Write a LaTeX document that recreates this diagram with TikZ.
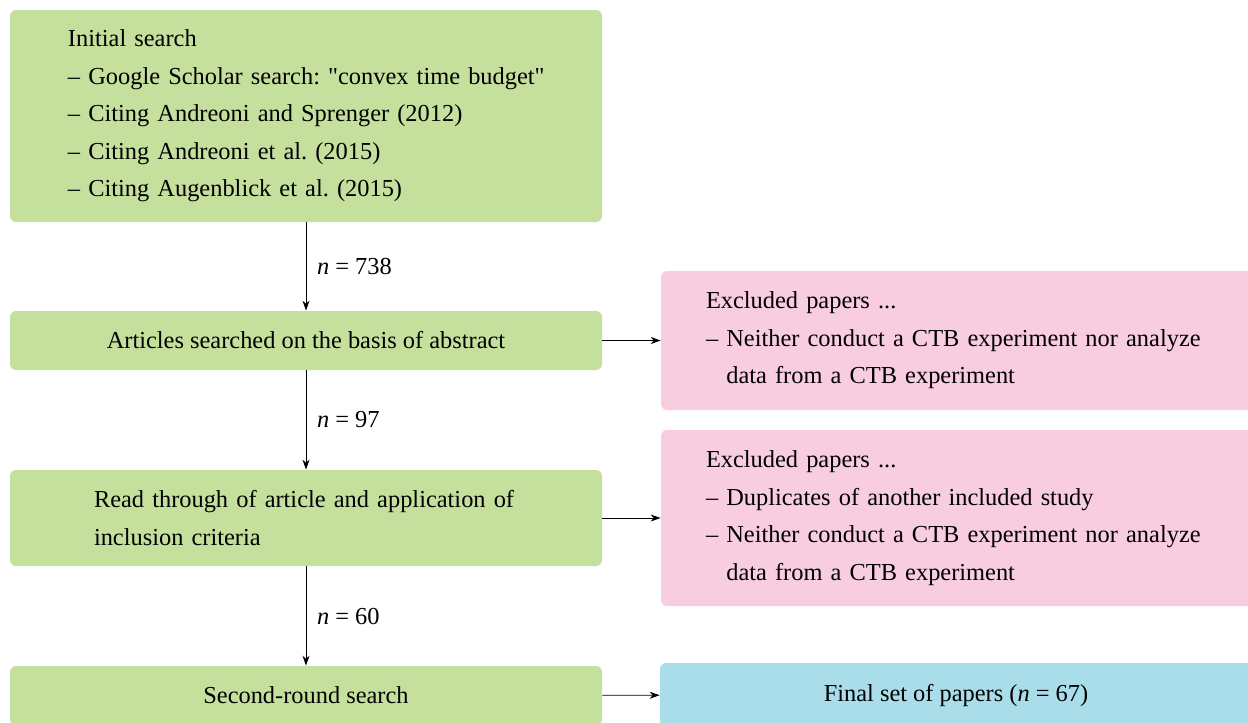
\documentclass[tikz,border=0pt]{standalone}
\usepackage{fontspec}
\setmainfont{Liberation Serif}
\usetikzlibrary{arrows.meta, positioning}
\definecolor{stage}{HTML}{C5DF9D}
\definecolor{excluded}{HTML}{F8CDE0}
\definecolor{final}{HTML}{AADDEA}
\newcommand{\nn}{\textit{n}}
\frenchspacing
\hbadness=10000 \hfuzz=50pt

\begin{document}
\begin{tikzpicture}[x=0.5pt, y=-0.5pt,
  box/.style={rounded corners=3pt, font=\fontsize{12.2}{18.75}\selectfont},
  flow/.style={-{Stealth[length=5pt, width=3.5pt]}, thin},
  count/.style={right=2pt, font=\fontsize{12.2}{13}\selectfont}]
  \useasboundingbox (0,0) rectangle (1248,723);
  % Search stages
  \node[box, fill=stage, minimum height=106pt, inner xsep=29pt, text width=238pt, align=left] (initial) at (306,116)
    {Initial search\\ \mbox{– Google Scholar search: \textquotedbl convex time budget\textquotedbl}\\ – Citing Andreoni and Sprenger (2012)\\
     – Citing Andreoni et al. (2015)\\ – Citing Augenblick et al. (2015)};
  \node[box, fill=stage, minimum width=296pt, minimum height=29.5pt] (abstract) at (306,340.5)
    {Articles searched on the basis of abstract};
  \node[box, fill=stage, minimum height=48pt, inner xsep=42pt, text width=212pt, align=left] (read) at (306,518)
    {Read through of article and application of\\ inclusion criteria};
  \node[box, fill=stage, minimum width=296pt, minimum height=29.5pt] (second) at (306,695.5)
    {Second-round search};
  % Excluded and final boxes
  \node[box, fill=excluded, minimum height=69.5pt, inner xsep=22.5pt, text width=251pt, align=left] (drop1) at (957,340.5)
    {Excluded papers ...\\ – Neither conduct a CTB experiment nor analyze\\ \phantom{– }data from a CTB experiment};
  \node[box, fill=excluded, minimum height=88pt, inner xsep=22.5pt, text width=251pt, align=left] (drop2) at (957,518)
    {Excluded papers ...\\ – Duplicates of another included study\\ – Neither conduct a CTB experiment nor analyze\\
     \phantom{– }data from a CTB experiment};
  \node[box, fill=final, minimum width=296pt, minimum height=32pt] (final) at (956,695)
    {Final set of papers (\nn{} = 67)};
  % Arrows
  \draw[flow] (initial) -- node[count] (n1) {\nn{} = 738} (abstract);
  \draw[flow] (abstract) -- node[count] (n2) {\nn{} = 97} (read);
  \draw[flow] (read) -- node[count] (n3) {\nn{} = 60} (second);
  \draw[flow] (abstract) -- (drop1);
  \draw[flow] (read) -- (drop2);
  \draw[flow] (second) -- (final);
\end{tikzpicture}
\end{document}
